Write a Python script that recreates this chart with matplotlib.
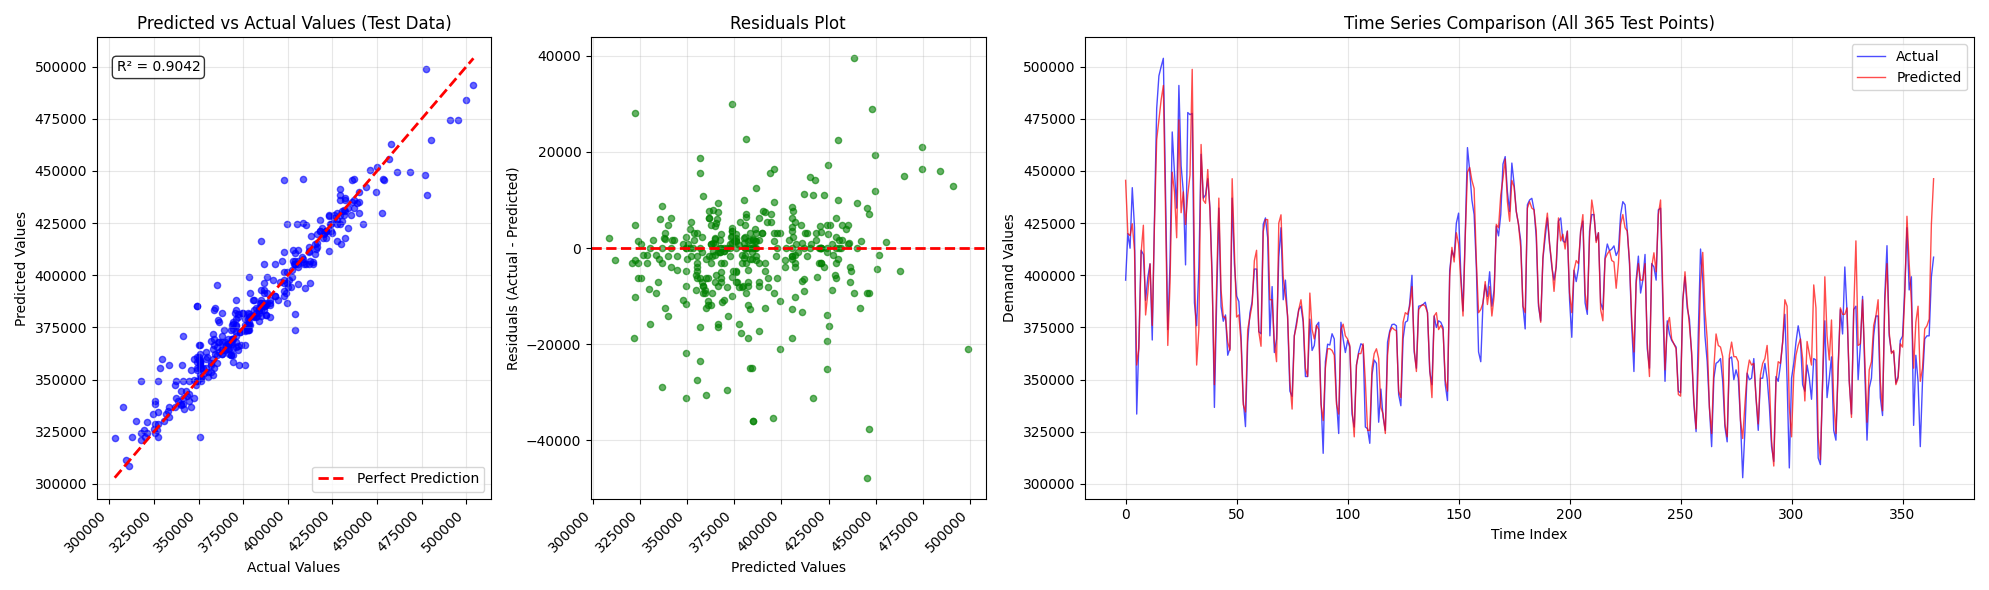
import numpy as np
import matplotlib
matplotlib.use("Agg")
import matplotlib.pyplot as plt
from matplotlib.gridspec import GridSpec

# values (index 0..364)
actual = [
    397700, 420000, 413000, 442000, 423000, 333500, 369500, 412000, 410000, 388000,
    399000, 405500, 369000, 427500, 480000, 495600, 500000, 504000, 440000, 374000,
    405500, 468700, 449400, 432200, 491000, 452500, 440000, 405000, 478000, 477000,
    477600, 386800, 375800, 404000, 458000, 437000, 438500, 446300, 432200, 399400,
    336700, 386800, 432200, 385000, 378000, 381000, 361700, 365000, 437000, 405500,
    390000, 387500, 371000, 340000, 327500, 368000, 382000, 387500, 403000, 403000,
    373000, 372000, 424400, 427500, 418000, 371000, 394600, 363000, 369500, 408700,
    422800, 388300, 397700, 379000, 344500, 342000, 371000, 377500, 383600, 385200,
    377500, 351500, 351500, 379000, 364000, 366400, 376000, 377500, 341400, 314700,
    358600, 367000, 366600, 372000, 369500, 340000, 324200, 377500, 369500, 363000,
    368800, 365600, 333500, 327300, 357000, 363300, 367200, 366400, 327300, 326500,
    319500, 352300, 359400, 357800, 329600, 345500, 332000, 325700, 368000, 373400,
    376400, 376600, 375800, 342900, 337500, 369500, 377500, 378200, 386800, 400000,
    363300, 355500, 385200, 385500, 386000, 387100, 382100, 353900, 347600, 380500,
    375000, 378200, 377500, 375000, 347600, 340000, 402400, 411800, 408700, 425000,
    429800, 400900, 382900, 419700, 461200, 450200, 436100, 429100, 404000, 363300,
    358600, 386800, 395400, 389900, 401700, 385200, 393000, 423600, 418900, 429100,
    453300, 456900, 440000, 430600, 453800, 443900, 430600, 424400, 416500, 385200,
    374300, 433800, 436100, 436900, 431400, 418100, 385200, 378200, 407900, 418100,
    427500, 415000, 404000, 397700, 404000, 426000, 427500, 416500, 415700, 421200,
    388300, 370300, 402400, 397000, 403300, 421200, 426000, 386800, 381300, 421200,
    429100, 429100, 416500, 420400, 386800, 383600, 408700, 415000, 411800, 412600,
    414100, 409500, 411800, 429100, 435300, 433800, 421200, 405600, 375800, 353900,
    397700, 409200, 391500, 397700, 410000, 364800, 355500, 405600, 404000, 397700,
    431400, 432200, 386800, 349200, 378200, 371900, 368800, 367200, 365600, 344500,
    343700, 388300, 399300, 384400, 379000, 361700, 338200, 325100, 372600, 412600,
    397700, 371000, 358600, 336700, 317900, 350700, 357800, 358600, 360100, 349200,
    327300, 320200, 360100, 360900, 350000, 354700, 350700, 330400, 303000, 325700,
    353100, 350000, 350700, 360100, 341400, 325700, 350700, 350700, 357800, 350700,
    337500, 317900, 310800, 351500, 349200, 357000, 368000, 381300, 349200, 307700,
    350700, 357800, 368000, 375800, 369500, 347600, 344500, 357000, 350700, 340600,
    360100, 359400, 312500, 309300, 349200, 378200, 341400, 350700, 360900, 325700,
    321000, 357000, 383600, 371900, 404000, 382100, 349200, 333500, 383600, 385200,
    350000, 366400, 389900, 353900, 321000, 346000, 350700, 371000, 380500, 380500,
    341400, 332800, 389900, 414200, 371000, 363300, 363300, 348400, 351500, 368800,
    370800, 393000, 422800, 393000, 399300, 328100, 361700, 349200, 317900, 349200,
    369500, 371000, 371000, 399300, 408700,
]

predicted = [
    445500, 420000, 419000, 424700, 411800, 357000, 365000, 411000, 424000, 381000,
    391500, 405500, 376000, 424500, 465000, 474500, 484000, 491000, 430000, 366400,
    396000, 449400, 440000, 418000, 474500, 430000, 440000, 424400, 438500, 448000,
    498700, 405600, 357000, 374000, 462700, 436000, 434500, 450700, 430600, 396200,
    347600, 396200, 437000, 393000, 380000, 380000, 368000, 364000, 446300, 412000,
    380000, 381000, 368000, 338000, 334500, 374000, 380000, 386000, 407000, 412000,
    373000, 366000, 421000, 426700, 426700, 388300, 388300, 368000, 358600, 425000,
    429000, 399300, 390000, 380500, 349200, 335900, 371000, 376000, 383600, 388300,
    379000, 355500, 351500, 391500, 374000, 369500, 376000, 374000, 338200, 330400,
    355500, 364800, 364800, 364000, 361700, 338200, 333500, 374000, 376600, 371000,
    369500, 366400, 336700, 322600, 357000, 362500, 362500, 367200, 349200, 325700,
    325700, 355500, 362500, 364800, 360100, 336700, 333500, 324200, 361700, 372600,
    375000, 374000, 373400, 344500, 341400, 377500, 382100, 381300, 385200, 394600,
    364800, 353900, 383600, 385200, 386000, 385200, 382100, 355500, 341400, 380500,
    382100, 374000, 376000, 374000, 349900, 344500, 399300, 413400, 406400, 420400,
    415000, 397700, 380500, 418100, 449400, 451700, 445500, 441600, 407100, 382100,
    383600, 386800, 397000, 386000, 394600, 380500, 389900, 424400, 422800, 438500,
    446300, 455700, 435300, 425900, 445500, 442400, 430600, 424400, 413400, 385200,
    382100, 432200, 435300, 432200, 431400, 421200, 386800, 377500, 408700, 421200,
    429800, 415000, 405600, 392300, 405600, 427500, 416500, 419700, 412600, 421200,
    391500, 382100, 402400, 407100, 405600, 421200, 429100, 391500, 383600, 418100,
    436100, 429100, 415700, 420400, 383600, 378200, 407900, 410200, 411800, 407100,
    406400, 393800, 405600, 424400, 429100, 422800, 421200, 407100, 379000, 363300,
    396200, 405600, 397700, 397700, 405600, 368000, 351500, 404000, 410800, 401700,
    429100, 436100, 393000, 354700, 376000, 379800, 369500, 367200, 364800, 342900,
    342100, 386800, 401700, 386800, 376000, 363300, 339800, 326500, 357000, 396200,
    411000, 383600, 369500, 336700, 324200, 355500, 371900, 366400, 365600, 361000,
    328800, 322600, 361700, 368000, 361000, 361000, 358600, 330400, 321800, 338200,
    353100, 359400, 357000, 357800, 341400, 328800, 352300, 357800, 360100, 366400,
    349200, 321000, 308600, 349200, 358600, 357800, 368000, 388300, 385200, 336700,
    322600, 352300, 361700, 366400, 369500, 360100, 339800, 368300, 362500, 357000,
    395400, 384400, 322600, 311700, 349200, 399300, 371000, 359400, 378600, 339800,
    324200, 353900, 384400, 381300, 381300, 384400, 349200, 331900, 382100, 416500,
    366400, 367200, 388300, 360100, 329600, 354700, 358600, 376000, 380500, 388300,
    349200, 335100, 386800, 405600, 372600, 362500, 364000, 347600, 350700, 367200,
    365600, 389900, 428300, 405600, 386800, 355500, 377500, 385200, 349200, 355500,
    374300, 375800, 379000, 424400, 446300,
]

r2_text = "R² = 0.9042"

actual = np.array(actual)
predicted = np.array(predicted)
residuals = actual - predicted
index = np.arange(len(actual))

fig = plt.figure(figsize=(19.89, 5.9), dpi=100)
gs = GridSpec(1, 4, figure=fig)
ax1 = fig.add_subplot(gs[0, 0])
ax2 = fig.add_subplot(gs[0, 1])
ax3 = fig.add_subplot(gs[0, 2:])

# predicted vs actual
ax1.scatter(actual, predicted, alpha=0.6, color="blue", s=20)
lo, hi = actual.min(), actual.max()
ax1.plot([lo, hi], [lo, hi], "r--", lw=2, label="Perfect Prediction")
ax1.set_xlabel("Actual Values")
ax1.set_ylabel("Predicted Values")
ax1.set_title("Predicted vs Actual Values (Test Data)")
ax1.legend(loc="lower right")
ax1.grid(True, alpha=0.3)
ax1.text(0.05, 0.95, r2_text, transform=ax1.transAxes, va="top",
         bbox=dict(boxstyle="round", facecolor="white", alpha=0.8))
plt.setp(ax1.get_xticklabels(), rotation=45, ha="right")

# residuals
ax2.scatter(predicted, residuals, alpha=0.6, color="green", s=20)
ax2.axhline(y=0, color="r", linestyle="--", lw=2)
ax2.set_xlabel("Predicted Values")
ax2.set_ylabel("Residuals (Actual - Predicted)")
ax2.set_title("Residuals Plot")
ax2.grid(True, alpha=0.3)
plt.setp(ax2.get_xticklabels(), rotation=45, ha="right")

# time series
ax3.plot(index, actual, label="Actual", color="blue", alpha=0.7, lw=1)
ax3.plot(index, predicted, label="Predicted", color="red", alpha=0.7, lw=1)
ax3.set_xlabel("Time Index")
ax3.set_ylabel("Demand Values")
ax3.set_title("Time Series Comparison (All 365 Test Points)")
ax3.legend(loc="upper right")
ax3.grid(True, alpha=0.3)

plt.tight_layout()
plt.savefig("out.png", dpi=100)
